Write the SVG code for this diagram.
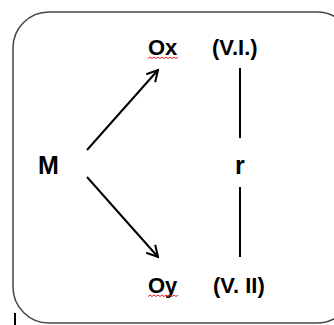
<svg xmlns="http://www.w3.org/2000/svg" width="334" height="325" viewBox="0 0 334 325">
<defs>
<style>
.t{font-family:"Liberation Sans",Arial,sans-serif;font-weight:bold;fill:#000;font-size:22px;}
.big{font-size:25px;}
.ln{stroke:#000;stroke-width:2;fill:none;}
.sq{stroke:#e02020;stroke-width:1;fill:none;}
</style>
<marker id="ah" viewBox="0 0 14 14" refX="12" refY="7" markerWidth="14" markerHeight="14" markerUnits="userSpaceOnUse" orient="auto">
<path d="M1,1 L12,7 L1,13" fill="none" stroke="#000" stroke-width="2"/>
</marker>
</defs>
<rect x="13" y="12" width="340" height="311" rx="36" ry="36" fill="#fff" stroke="#444" stroke-width="1.5"/>
<g id="connectors">
<line class="ln" x1="87" y1="150" x2="158" y2="70" marker-end="url(#ah)"/>
<line class="ln" x1="87" y1="177" x2="158" y2="257" marker-end="url(#ah)"/>
<line class="ln" x1="240" y1="68" x2="240" y2="138"/>
<line class="ln" x1="240" y1="187" x2="240" y2="257"/>
</g>
<g id="M"><text class="t big" x="38" y="174">M</text></g>
<g id="Ox"><text class="t" x="148" y="55">Ox</text>
<path class="sq" d="M148,58.5 l2,-1.5 l2,1.5 l2,-1.5 l2,1.5 l2,-1.5 l2,1.5 l2,-1.5 l2,1.5 l2,-1.5 l2,1.5 l2,-1.5 l2,1.5 l2,-1.5 l2,1.5 l2,-1.5"/></g>
<g id="VI"><text class="t" x="212" y="55">(V.I.)</text></g>
<g id="r"><text class="t big" x="235" y="174">r</text></g>
<g id="Oy"><text class="t" x="148" y="293">Oy</text>
<path class="sq" d="M148,296.5 l2,-1.5 l2,1.5 l2,-1.5 l2,1.5 l2,-1.5 l2,1.5 l2,-1.5 l2,1.5 l2,-1.5 l2,1.5 l2,-1.5 l2,1.5 l2,-1.5 l2,1.5 l2,-1.5"/></g>
<g id="VII"><text class="t" x="213" y="293">(V. II)</text></g>
<line x1="15" y1="313" x2="15" y2="325" stroke="#000" stroke-width="2"/>
</svg>
